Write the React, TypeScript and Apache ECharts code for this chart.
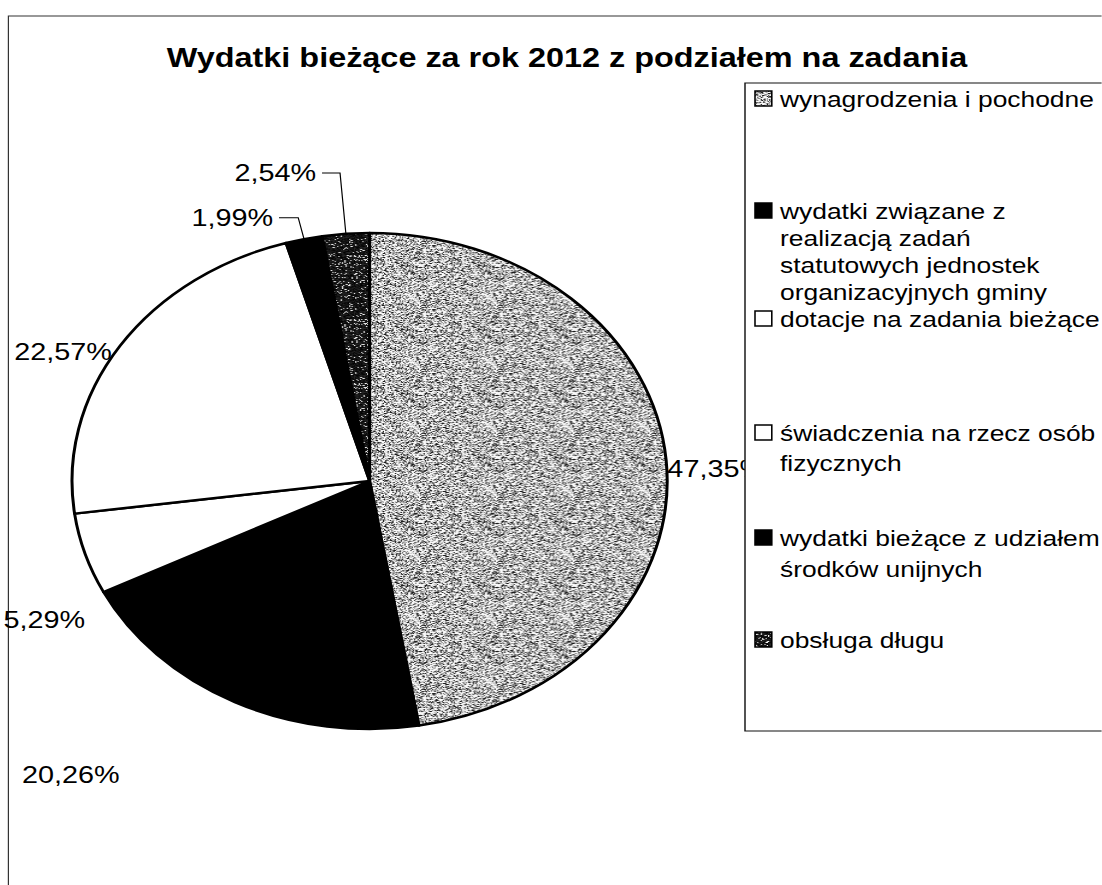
import React, { useEffect, useRef } from 'react';
import * as echarts from 'echarts';

// ---- data ----
const titleText = 'Wydatki bieżące za rok 2012 z podziałem na zadania';
const categories = [
  'wynagrodzenia i pochodne',
  'wydatki związane z\nrealizacją zadań\nstatutowych jednostek\norganizacyjnych gminy',
  'dotacje na zadania bieżące',
  'świadczenia na rzecz osób\nfizycznych',
  'wydatki bieżące z udziałem\nśrodków unijnych',
  'obsługa długu',
];
const shares = [47.35, 20.26, 5.29, 22.57, 1.99, 2.54];

// ---- layout / style ----
const SX = 1.2; // the scanned original is stretched horizontally
const W = 1102 / SX;
const H = 885;
const ux = (x: number) => x / SX;
const FONT = '"Liberation Sans", Arial, Helvetica, sans-serif';
const legendRowY = [99, 211, 319, 433, 538, 640];
const legendLineH = [24, 27, 24, 30, 31, 24];
const labelNudge: any[] = [
  { dx: -4, dy: 8 },
  { dx: -91, dy: 73 },
  { dx: 5, dy: 66 },
  { dx: -2, dy: 6 },
  {},
  {},
];
const lineCfg: any[] = [
  undefined,
  undefined,
  undefined,
  undefined,
  { show: true, length: 22, length2: 16, lineStyle: { color: '#000', width: 1 } },
  { show: true, length: 61, length2: 15, lineStyle: { color: '#000', width: 1 } },
];

function makeNoise(seed: number, fn: (r: () => number) => number) {
  const c = document.createElement('canvas');
  c.width = 64;
  c.height = 64;
  const ctx = c.getContext('2d')!;
  const img = ctx.createImageData(64, 64);
  let s = seed >>> 0;
  const rnd = () => {
    s = (Math.imul(s, 1664525) + 1013904223) >>> 0;
    return s / 4294967296;
  };
  for (let i = 0; i < 64 * 64; i++) {
    const v = Math.max(0, Math.min(255, Math.round(fn(rnd))));
    img.data[i * 4] = v;
    img.data[i * 4 + 1] = v;
    img.data[i * 4 + 2] = v;
    img.data[i * 4 + 3] = 255;
  }
  ctx.putImageData(img, 0, 0);
  return c;
}

export default function App() {
  const ref = useRef<HTMLDivElement>(null);

  useEffect(() => {
    if (!ref.current) return;
    const chart = echarts.init(ref.current, undefined, { renderer: 'svg' });

    const grayTex = makeNoise(12345, (r) => {
      const a = r();
      if (a < 0.36) return 250;
      if (a < 0.5) return 30;
      return 80 + r() * 160;
    });
    const darkTex = makeNoise(777, (r) => {
      const a = r();
      if (a < 0.12) return 190 + r() * 65;
      return r() * 40;
    });
    const colors: any[] = [
      { image: grayTex, repeat: 'repeat' },
      '#000000',
      '#ffffff',
      '#ffffff',
      '#000000',
      { image: darkTex, repeat: 'repeat' },
    ];

    const graphic: any[] = [
      {
        type: 'rect',
        z: 0,
        silent: true,
        shape: { x: 7, y: 16, width: 3000, height: 3000 },
        style: { fill: 'none', stroke: '#333', lineWidth: 1 },
      },
      {
        type: 'rect',
        z: 10,
        silent: true,
        shape: { x: ux(745), y: 83, width: 600, height: 648 },
        style: { fill: '#ffffff', stroke: '#111', lineWidth: 1.2 },
      },
    ];
    categories.forEach((name, i) => {
      graphic.push({
        type: 'rect',
        z: 11,
        silent: true,
        shape: { x: ux(755), y: legendRowY[i] - 8, width: 14, height: 15 },
        style: { fill: colors[i], stroke: '#000', lineWidth: 1.3 },
      });
      graphic.push({
        type: 'text',
        z: 11,
        silent: true,
        x: ux(780),
        y: legendRowY[i] - legendLineH[i] / 2,
        style: {
          text: name,
          fontSize: 22,
          fontFamily: FONT,
          fill: '#000',
          lineHeight: legendLineH[i],
          verticalAlign: 'top',
          align: 'left',
        },
      });
    });

    chart.setOption({
      animation: false,
      backgroundColor: '#ffffff',
      title: {
        text: titleText,
        left: ux(567),
        top: 44,
        textAlign: 'center',
        padding: 0,
        textStyle: { fontSize: 27, fontWeight: 'bold', fontFamily: FONT, color: '#000' },
      },
      graphic,
      series: [
        {
          type: 'pie',
          center: [308, 481],
          radius: 248,
          startAngle: 90,
          clockwise: true,
          avoidLabelOverlap: false,
          silent: true,
          emphasis: { disabled: true },
          itemStyle: { borderColor: '#000', borderWidth: 2.5 },
          label: {
            show: true,
            position: 'outside',
            fontSize: 24,
            fontFamily: FONT,
            color: '#000',
            distanceToLabelLine: 5,
            formatter: (p: any) => p.value.toFixed(2).replace('.', ',') + '%',
          },
          labelLine: { show: false, length: 0, length2: 0 },
          labelLayout: (p: any) => labelNudge[p.dataIndex] || {},
          data: categories.map((name, i) => ({
            name,
            value: shares[i],
            itemStyle: { color: colors[i] },
            ...(lineCfg[i] ? { labelLine: lineCfg[i] } : {}),
          })),
        },
      ],
    });

    return () => chart.dispose();
  }, []);

  return (
    <div
      ref={ref}
      style={{
        position: 'absolute',
        left: 0,
        top: 0,
        width: W,
        height: H,
        transform: `scaleX(${SX})`,
        transformOrigin: '0 0',
      }}
    />
  );
}
